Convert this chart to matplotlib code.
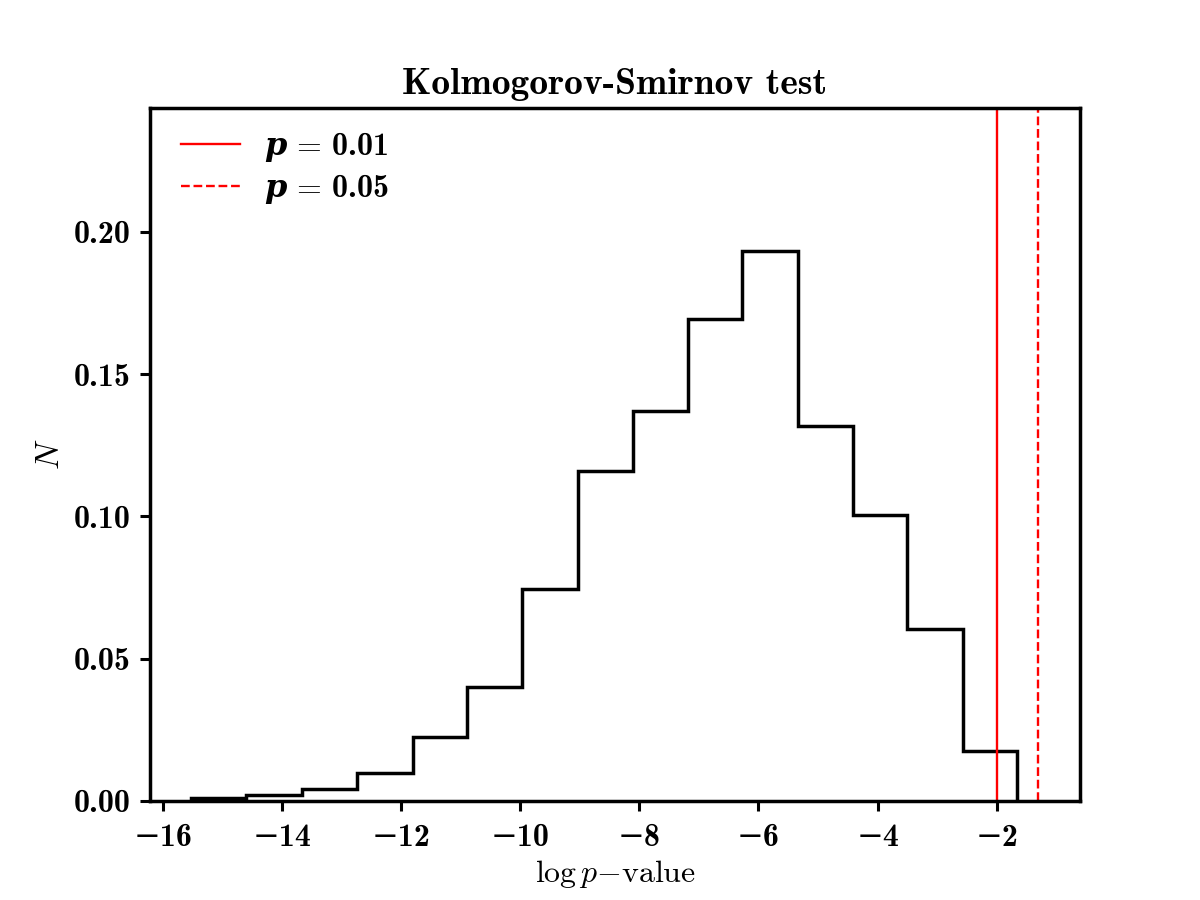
import numpy as np
import matplotlib.pyplot as plt
from matplotlib.ticker import FuncFormatter

plt.rcParams['mathtext.fontset'] = 'custom'
plt.rcParams['mathtext.rm'] = 'cmr10'
plt.rcParams['mathtext.it'] = 'cmmi10'
plt.rcParams['mathtext.bf'] = 'cmb10'
plt.rcParams['mathtext.bfit'] = 'DejaVu Serif:italic:bold'
plt.rcParams['font.family'] = ['cmb10', 'DejaVu Serif']
plt.rcParams['axes.unicode_minus'] = True

# bin edges (log p-value) and normalised counts
edges = [-15.53, -14.60, -13.66, -12.74, -11.81, -10.89, -9.97, -9.03,
         -8.11, -7.19, -6.27, -5.34, -4.42, -3.50, -2.57, -1.65]
counts = [0.0010, 0.0021, 0.0042, 0.0098, 0.0225, 0.0400, 0.0744, 0.1158,
          0.1372, 0.1695, 0.1933, 0.1316, 0.1004, 0.0604, 0.0175]

p_levels = [0.01, 0.05]
p_styles = ['-', '--']

fig, ax = plt.subplots(figsize=(12, 9), dpi=100)

ax.stairs(counts, edges, color='black', linewidth=2.5)
for p, ls in zip(p_levels, p_styles):
    ax.axvline(np.log10(p), color='red', linestyle=ls, linewidth=1.7,
               label=r'$\boldsymbol{p}\,=\,\mathbf{%.2f}$' % p)

ax.set_xlim(-16.22, -0.6)
ax.set_ylim(0, 0.2435)
ax.set_xticks([-16, -14, -12, -10, -8, -6, -4, -2])
ax.set_yticks([0.0, 0.05, 0.10, 0.15, 0.20])
ax.xaxis.set_major_formatter(FuncFormatter(lambda v, pos: ('\u2212%d' % abs(v)) if v < 0 else '%d' % v))
ax.yaxis.set_major_formatter(FuncFormatter(lambda v, pos: '%.2f' % v))
ax.tick_params(axis='both', direction='out', length=7, width=2.2, labelsize=23,
               top=False, right=False)
ax.tick_params(axis='x', pad=9)
ax.tick_params(axis='y', pad=7)
for s in ax.spines.values():
    s.set_linewidth(2.5)

ax.set_xlabel(r'$\log p\mathrm{-value}$', fontsize=23, labelpad=4)
ax.set_ylabel(r'$N$', fontsize=24, labelpad=6)
ax.set_title('Kolmogorov-Smirnov test', fontsize=27, pad=10)
ax.legend(loc='upper left', bbox_to_anchor=(0.009, 1.0), frameon=False,
          fontsize=23, handlelength=1.85, handletextpad=0.75,
          labelspacing=0.25, borderaxespad=0.3)

fig.savefig('out.png', dpi=100)
